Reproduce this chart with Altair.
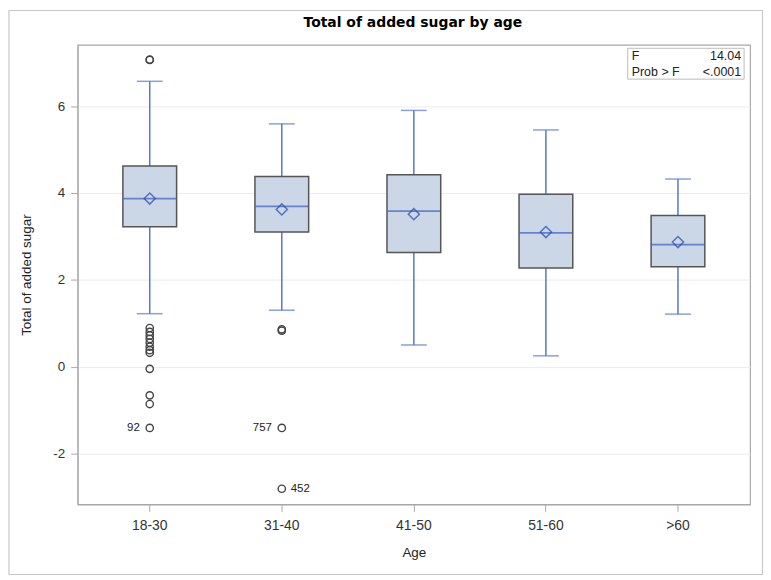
import altair as alt
import pandas as pd

ages = ["18-30", "31-40", "41-50", "51-60", ">60"]
whisker_low = [1.22, 1.30, 0.50, 0.25, 1.21]
q1 = [3.22, 3.10, 2.63, 2.27, 2.30]
median = [3.87, 3.69, 3.58, 3.08, 2.81]
q3 = [4.62, 4.38, 4.42, 3.97, 3.48]
whisker_high = [6.57, 5.59, 5.90, 5.45, 4.32]
means = [3.87, 3.62, 3.51, 3.10, 2.87]

outlier_age = ["18-30"] * 14 + ["31-40"] * 4
outlier_value = [7.07, 7.06, 0.89, 0.80, 0.72, 0.64, 0.55, 0.46, 0.38, 0.32,
                 -0.05, -0.66, -0.86, -1.41,
                 0.86, 0.83, -1.41, -2.81]

label_age = ["18-30", "31-40", "31-40"]
label_value = [-1.41, -1.41, -2.81]
label_text = ["92", "757", "452"]
label_side = ["left", "left", "right"]

stats_names = ["F", "Prob > F"]
stats_values = ["14.04", "<.0001"]

chart_title = ["Total of added sugar by age"]

box = pd.DataFrame({"age": ages, "lo": whisker_low, "q1": q1, "med": median,
                    "q3": q3, "hi": whisker_high, "mean": means})
out = pd.DataFrame({"age": outlier_age, "v": outlier_value})
lab = pd.DataFrame({"age": label_age, "v": label_value, "t": label_text, "side": label_side})
stats = pd.DataFrame({"name": stats_names, "val": stats_values, "row": [0, 1]})
ttl = pd.DataFrame({"t": chart_title})

W, H = 676, 462
FONT = "Liberation Sans"
BLUE = "#5577CC"

xenc = alt.X("age:N", sort=ages, title="Age",
             scale=alt.Scale(paddingInner=0, paddingOuter=0.046),
             axis=alt.Axis(labelAngle=0, grid=False))
yscale = alt.Scale(domain=[-3.17, 7.41], nice=False, zero=False)
yenc = alt.Y("lo:Q", scale=yscale, title="Total of added sugar",
             axis=alt.Axis(values=[-2, 0, 2, 4, 6], grid=True,
                           labelExpr="datum.value < 0 ? '-' + abs(datum.value) : '' + datum.value"))

base = alt.Chart(box)

whisk = base.mark_rule(color=BLUE, strokeWidth=1.5).encode(x=xenc, y=yenc, y2="hi:Q")
cap_lo = base.mark_tick(color=BLUE, size=26, thickness=1.5).encode(x=xenc, y=alt.Y("lo:Q", scale=yscale))
cap_hi = base.mark_tick(color=BLUE, size=26, thickness=1.5).encode(x=xenc, y=alt.Y("hi:Q", scale=yscale))
boxes = base.mark_bar(size=54, fill="#CBD6E6", stroke="#555555", strokeWidth=1.5).encode(
    x=xenc, y=alt.Y("q1:Q", scale=yscale), y2="q3:Q")
med = base.mark_tick(color="#3A5FC4", size=53, thickness=1.8).encode(x=xenc, y=alt.Y("med:Q", scale=yscale))
mean = base.mark_point(shape="diamond", filled=False, size=125, color="#2448B0", strokeWidth=1.5).encode(
    x=xenc, y=alt.Y("mean:Q", scale=yscale))

outl = alt.Chart(out).mark_point(shape="circle", filled=False, size=54, color="#444444",
                                 strokeWidth=1.4, opacity=1).encode(
    x=alt.X("age:N", sort=ages), y=alt.Y("v:Q", scale=yscale))

lab_l = alt.Chart(lab).transform_filter(alt.datum.side == "left").mark_text(
    align="right", dx=-10, fontSize=11.5, font=FONT, color="#222222").encode(
    x=alt.X("age:N", sort=ages), y=alt.Y("v:Q", scale=yscale), text="t:N")
lab_r = alt.Chart(lab).transform_filter(alt.datum.side == "right").mark_text(
    align="left", dx=9, fontSize=11.5, font=FONT, color="#222222").encode(
    x=alt.X("age:N", sort=ages), y=alt.Y("v:Q", scale=yscale), text="t:N")

# statistics inset box
inset = alt.Chart(stats).transform_filter(alt.datum.row == 0).mark_rect(
    fill="white", stroke="#BBBBBB", strokeWidth=1).encode(
    x=alt.value(W - 123), x2=alt.value(W - 6), y=alt.value(3.5), y2=alt.value(34.5))

stat_layers = []
for r, ypix in [(0, 11.5), (1, 27)]:
    stat_layers.append(alt.Chart(stats).transform_filter(alt.datum.row == r).mark_text(
        align="left", baseline="middle", fontSize=12.5, font=FONT, color="#222222").encode(
        x=alt.value(W - 119), y=alt.value(ypix), text="name:N"))
    stat_layers.append(alt.Chart(stats).transform_filter(alt.datum.row == r).mark_text(
        align="right", baseline="middle", fontSize=12.5, font=FONT, color="#222222").encode(
        x=alt.value(W - 9), y=alt.value(ypix), text="val:N"))

title_mark = alt.Chart(ttl).mark_text(align="center", baseline="middle", fontSize=14,
                                      fontWeight="bold", font="DejaVu Sans", color="#000000").encode(
    x=alt.value(W / 2 - 1), y=alt.value(-22), text="t:N")

frame = alt.Chart(stats).transform_filter(alt.datum.row == 0).mark_rect(
    fill="transparent", stroke="#C8C8C8", strokeWidth=1.2).encode(
    x=alt.value(-69), x2=alt.value(W + 12.5), y=alt.value(-34.5), y2=alt.value(H + 70.5))

chart = alt.layer(frame, whisk, cap_lo, cap_hi, boxes, med, mean, outl, lab_l, lab_r,
                  inset, *stat_layers, title_mark).properties(
    width=W, height=H,
    autosize=alt.AutoSizeParams(type="none"),
    padding={"left": 70, "top": 35.5, "right": 13, "bottom": 72},
).configure_view(stroke="#A8A8A8", strokeWidth=1.2).configure_axis(
    labelFont=FONT, titleFont=FONT, labelFontSize=13.5, titleFontSize=13.5,
    labelColor="#333333", titleColor="#222222", titleFontWeight="normal",
    domainColor="#A8A8A8", tickColor="#A8A8A8", gridColor="#EBEBEB", tickSize=7,
).configure_axisX(labelFontSize=14, labelPadding=7, titlePadding=13).configure_axisY(
    titlePadding=19, labelPadding=6)

chart.save("out.html", embed_options={"renderer": "svg", "actions": False})
